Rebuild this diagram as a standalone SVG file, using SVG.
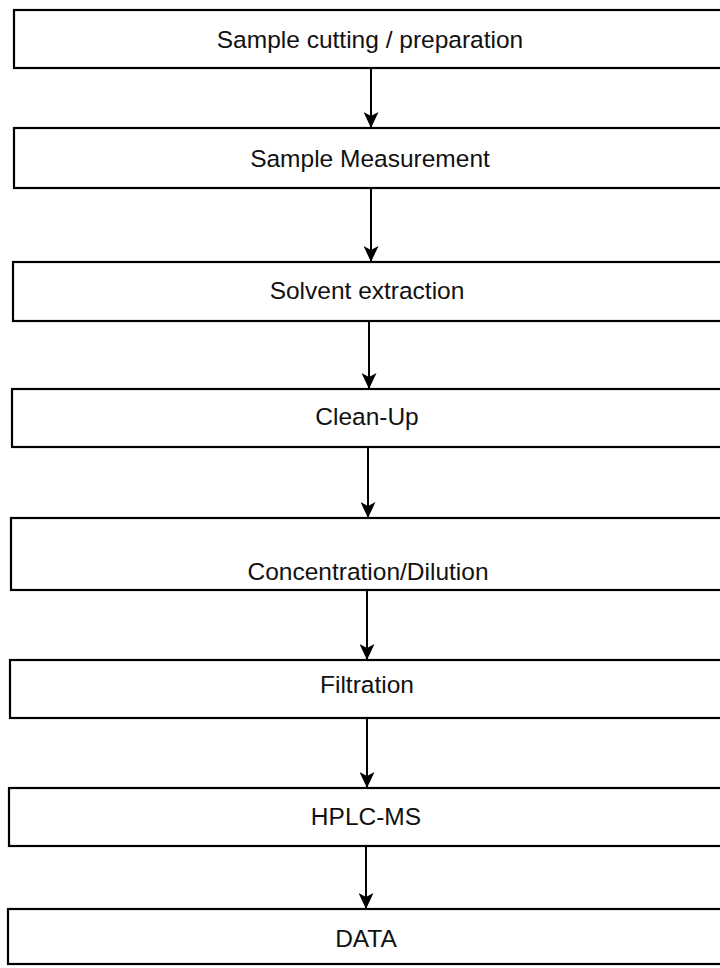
<svg xmlns="http://www.w3.org/2000/svg" width="720" height="968" viewBox="0 0 720 968">
  <style>
    .box { fill: #ffffff; stroke: #000000; stroke-width: 2.2; }
    .lbl { font-family: "Liberation Sans", Arial, sans-serif; font-size: 24.5px; fill: #111111; text-anchor: middle; dominant-baseline: central; }
    .conn { stroke: #000000; stroke-width: 2; fill: none; marker-end: url(#arr); }
  </style>
  <defs>
    <marker id="arr" markerUnits="userSpaceOnUse" viewBox="0 0 16 15" refX="16" refY="7.5" markerWidth="16" markerHeight="15" orient="auto">
      <path d="M0,0 L4,7.5 L0,15 L16,7.5 z" fill="#000000"/>
    </marker>
  </defs>
  <rect width="720" height="968" fill="#ffffff"/>

  <g id="connectors">
    <line class="conn" x1="371" y1="68" x2="371" y2="128"/>
    <line class="conn" x1="371" y1="188" x2="371" y2="262"/>
    <line class="conn" x1="369" y1="321" x2="369" y2="389"/>
    <line class="conn" x1="368" y1="447" x2="368" y2="518"/>
    <line class="conn" x1="367" y1="590" x2="367" y2="660"/>
    <line class="conn" x1="367" y1="718" x2="367" y2="788"/>
    <line class="conn" x1="366" y1="846" x2="366" y2="909"/>
  </g>

  <g id="node-sample-cutting">
    <rect class="box" x="14" y="10" width="716" height="58"/>
    <text class="lbl" x="370" y="39">Sample cutting / preparation</text>
  </g>
  <g id="node-sample-measurement">
    <rect class="box" x="14" y="128" width="716" height="60"/>
    <text class="lbl" x="370" y="158">Sample Measurement</text>
  </g>
  <g id="node-solvent-extraction">
    <rect class="box" x="13" y="262" width="717" height="59"/>
    <text class="lbl" x="367" y="290">Solvent extraction</text>
  </g>
  <g id="node-clean-up">
    <rect class="box" x="12" y="389" width="718" height="58"/>
    <text class="lbl" x="367" y="416">Clean-Up</text>
  </g>
  <g id="node-concentration">
    <rect class="box" x="11" y="518" width="719" height="72"/>
    <text class="lbl" x="368" y="571">Concentration/Dilution</text>
  </g>
  <g id="node-filtration">
    <rect class="box" x="10" y="660" width="720" height="58"/>
    <text class="lbl" x="367" y="684">Filtration</text>
  </g>
  <g id="node-hplc-ms">
    <rect class="box" x="9" y="788" width="721" height="58"/>
    <text class="lbl" x="366" y="816">HPLC-MS</text>
  </g>
  <g id="node-data">
    <rect class="box" x="8" y="909" width="722" height="55"/>
    <text class="lbl" x="366" y="938">DATA</text>
  </g>
</svg>
